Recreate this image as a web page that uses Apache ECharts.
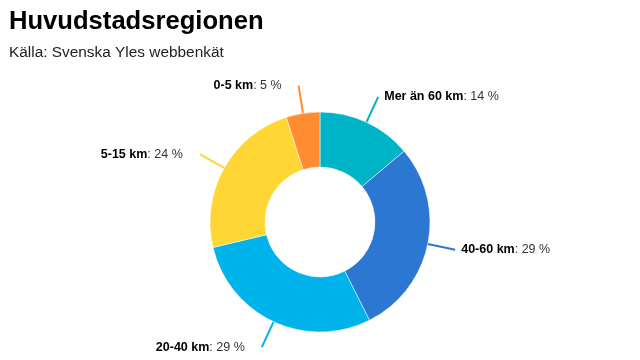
<!DOCTYPE html>
<html><head><meta charset="utf-8">
<script src="https://cdn.jsdelivr.net/npm/echarts@6/dist/echarts.min.js"></script>
<style>html,body{margin:0;padding:0;background:#fff}#c{width:640px;height:360px}</style>
</head><body><div id="c"></div>
<script>
const categories = ["Mer än 60 km", "40-60 km", "20-40 km", "5-15 km", "0-5 km"];
const values = [14, 29, 29, 24, 5];
const colors = ["#00b4c8", "#2b77d2", "#00b3eb", "#ffd634", "#ff8c30"];
const titleText = "Huvudstadsregionen";
const subtitleText = "Källa: Svenska Yles webbenkät";

const FONT = '"Liberation Sans", Arial, sans-serif';
const chart = echarts.init(document.getElementById('c'), null, {renderer: 'canvas'});
chart.setOption({
  animation: false,
  title: {
    text: titleText, subtext: subtitleText, left: 9, top: 9, padding: 0, itemGap: 10,
    textStyle: {fontFamily: FONT, fontWeight: 'bold', fontSize: 25.6, color: '#000'},
    subtextStyle: {fontFamily: FONT, fontSize: 15.4, color: '#222'}
  },
  series: [{
    type: 'pie',
    center: [320, 222],
    radius: [55, 110],
    startAngle: 90,
    clockwise: true,
    avoidLabelOverlap: false,
    itemStyle: {borderColor: '#fff', borderWidth: 0.5},
    label: {
      show: true, position: 'outside', distanceToLabelLine: 6,
      formatter: p => '{b|' + p.name + '}{n|: ' + p.value + ' %}',
      rich: {
        b: {fontFamily: FONT, fontWeight: 'bold', fontSize: 12.5, color: '#000'},
        n: {fontFamily: FONT, fontSize: 12.5, color: '#333'}
      }
    },
    labelLine: {show: true, length: 28, length2: 0, smooth: false, lineStyle: {width: 2}},
    data: categories.map((c, i) => ({
      name: c, value: values[i], itemStyle: {color: colors[i]},
      label: {distanceToLabelLine: i >= 2 ? 17 : 6}
    }))
  }]
});
</script></body></html>
